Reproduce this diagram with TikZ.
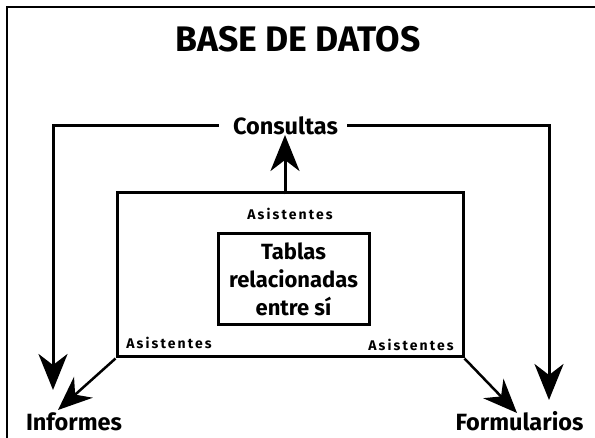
\documentclass[tikz,border=0pt]{standalone}
\usepackage{fontspec}
\setmainfont{Fira Sans}
\newfontfamily\spacedfont[LetterSpace=15]{Fira Sans}
\usetikzlibrary{arrows.meta}
\tikzset{
  thickline/.style={line width=3pt, line cap=butt},
  bigarrow/.style={thickline, -{Stealth[length=36pt, width=29pt, inset=11pt]}},
  diagarrow/.style={line width=2.5pt, -{Stealth[length=34pt, width=28pt, inset=11pt]}},
  boxstyle/.style={draw, line width=3pt},
  label/.style={font=\fontsize{23.5}{26}\selectfont\bfseries, inner sep=0pt},
  small/.style={font=\spacedfont\fontsize{14}{16}\selectfont\bfseries, inner sep=0pt},
}
\begin{document}
\begin{tikzpicture}[x=1pt, y=-1pt]
  \useasboundingbox (0,0) rectangle (595,438);
  % frame (top and left only visible)
  \draw[line width=1.5pt] (7,438) -- (7,7) -- (595,7);
  % title
  \node[font=\fontsize{35.5}{40}\selectfont\bfseries, inner sep=0pt] (title) at (298,39) {BASE DE DATOS};
  % inner box
  \node[boxstyle, minimum width=346pt, minimum height=164pt, inner sep=0pt] (outerbox) at (290,275) {};
  % tablas box
  \node[boxstyle, minimum width=151pt, minimum height=91pt, inner sep=0pt, align=center,
        font=\fontsize{22}{28}\selectfont\bfseries] (tablas) at (293.5,279.5) {Tablas\\relacionadas\\entre sí};
  % labels
  \node[label] (consultas) at (285.5,126) {Consultas};
  \node[label] (informes) at (74,422) {Informes};
  \node[label] (formularios) at (519.5,421) {Formularios};
  \node[small] (asisTop) at (290,214) {Asistentes};
  \node[small] (asisLeft) at (169,343) {Asistentes};
  \node[small] (asisRight) at (411,345) {Asistentes};
  % coordinates
  \coordinate (upStart) at (285,194.5);
  \coordinate (upTip) at (285,135);
  \coordinate (leftCorner) at (53,126);
  \coordinate (rightCorner) at (549,126);
  \coordinate (leftTip) at (53,390);
  \coordinate (rightTip) at (549,400);
  \coordinate (diagLeftTip) at (58,410);
  \coordinate (diagRightTip) at (517,413);
  % connectors
  \draw[bigarrow] (upStart) -- (upTip);
  \draw[bigarrow] ([xshift=-14pt]consultas.west) -- (leftCorner) -- (leftTip);
  \draw[bigarrow] ([xshift=9pt]consultas.east) -- (rightCorner) -- (rightTip);
  \draw[diagarrow] (outerbox.south west) -- (diagLeftTip);
  \draw[diagarrow] (outerbox.south east) -- (diagRightTip);
\end{tikzpicture}
\end{document}
